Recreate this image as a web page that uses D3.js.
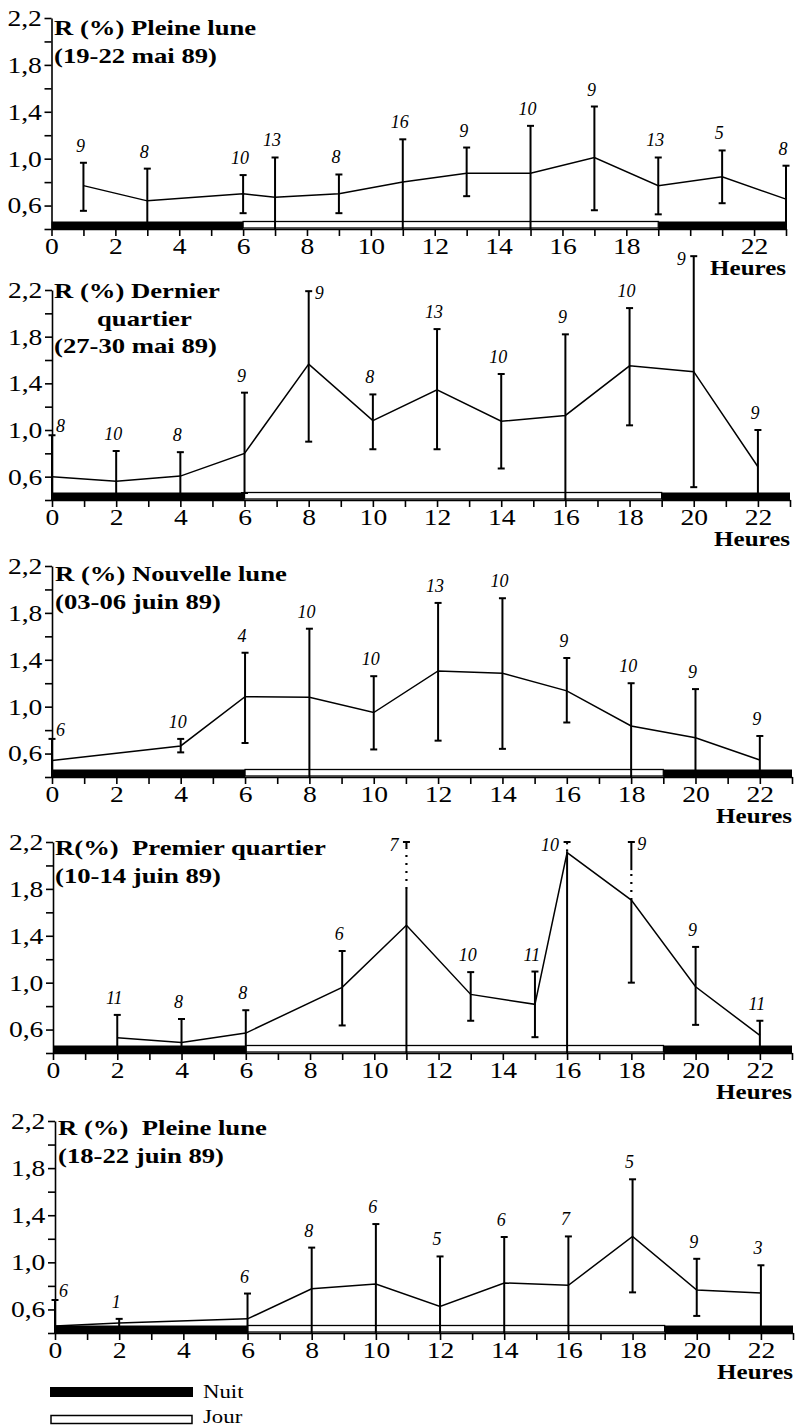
<!DOCTYPE html>
<html>
<head>
<meta charset="utf-8">
<script src="https://cdn.jsdelivr.net/npm/d3@7"></script>
<style>
body { margin:0; background:#fff; }
text { font-family:"Liberation Serif","Times New Roman",serif; fill:#000; }
</style>
</head>
<body>
<div id="graph"></div>
<script>
// Pleine lune (19-22 mai 89)
var hours1 = [1, 3, 6, 7, 9, 11, 13, 15, 17, 19, 21, 23]
var mean1  = [0.77, 0.64, 0.70, 0.67, 0.70, 0.80, 0.875, 0.875, 1.01, 0.77, 0.845, 0.655]
var low1   = [0.555, 0.40, 0.535, 0.40, 0.535, 0.40, 0.68, 0.40, 0.56, 0.525, 0.62, 0.40]
var high1  = [0.965, 0.915, 0.86, 1.01, 0.865, 1.165, 1.095, 1.28, 1.445, 1.01, 1.07, 0.94]
var n1     = [9, 8, 10, 13, 8, 16, 9, 10, 9, 13, 5, 8]

// Dernier quartier (27-30 mai 89)
var hours2 = [0, 2, 4, 6, 8, 10, 12, 14, 16, 18, 20, 22]
var mean2  = [0.60, 0.56, 0.605, 0.80, 1.565, 1.08, 1.345, 1.075, 1.125, 1.55, 1.50, 0.685]
var low2   = [0.40, 0.40, 0.40, 0.46, 0.90, 0.835, 0.835, 0.67, 0.40, 1.04, 0.51, 0.40]
var high2  = [0.955, 0.82, 0.81, 1.32, 2.19, 1.305, 1.865, 1.48, 1.82, 2.045, 2.49, 1.0]
var n2     = [8, 10, 8, 9, 9, 8, 13, 10, 9, 10, 9, 9]

// Nouvelle lune (03-06 juin 89)
var hours3 = [0, 4, 6, 8, 10, 12, 14, 16, 18, 20, 22]
var mean3  = [0.54, 0.665, 1.085, 1.08, 0.95, 1.305, 1.285, 1.135, 0.835, 0.735, 0.545]
var low3   = [0.40, 0.61, 0.69, 0.40, 0.635, 0.71, 0.64, 0.865, 0.40, 0.40, 0.40]
var high3  = [0.725, 0.725, 1.46, 1.665, 1.26, 1.885, 1.925, 1.415, 1.20, 1.15, 0.75]
var n3     = [6, 10, 4, 10, 10, 13, 10, 9, 10, 9, 9]

// Premier quartier (10-14 juin 89)
var hours4 = [2, 4, 6, 9, 11, 13, 15, 16, 18, 20, 22]
var mean4  = [0.53, 0.49, 0.57, 0.96, 1.49, 0.90, 0.815, 2.11, 1.705, 0.965, 0.55]
var low4   = [0.40, 0.40, 0.40, 0.635, 0.40, 0.675, 0.535, 0.40, 1.0, 0.64, 0.40]
var high4  = [0.725, 0.69, 0.765, 1.27, 2.2, 1.09, 1.095, 2.2, 2.2, 1.305, 0.675]
var n4     = [11, 8, 8, 6, 7, 10, 11, 10, 9, 9, 11]
// dotted (broken) stretches of some error bars: [hour, from, to]
var gaps4  = [[11, 1.80, 2.15], [16, 2.12, 2.18], [18, 1.705, 1.96]]

// Pleine lune (18-22 juin 89)
var hours5 = [0, 2, 6, 8, 10, 12, 14, 16, 18, 20, 22]
var mean5  = [0.46, 0.485, 0.52, 0.775, 0.815, 0.625, 0.825, 0.805, 1.22, 0.765, 0.74]
var low5   = [0.40, 0.45, 0.40, 0.40, 0.40, 0.40, 0.40, 0.40, 0.745, 0.545, 0.40]
var high5  = [0.68, 0.52, 0.735, 1.125, 1.325, 1.05, 1.215, 1.22, 1.705, 1.03, 0.975]
var n5     = [6, 1, 6, 8, 6, 5, 6, 7, 5, 9, 3]

var titles = [
    ["R (%) Pleine lune", "(19-22 mai 89)"],
    ["R (%) Dernier", "quartier", "(27-30 mai 89)"],
    ["R (%) Nouvelle lune", "(03-06 juin 89)"],
    ["R(%)  Premier quartier", "(10-14 juin 89)"],
    ["R (%)  Pleine lune", "(18-22 juin 89)"]
]
var tickHours = d3.range(0, 24)
var yTickValues = [0.4, 0.6, 0.8, 1.0, 1.2, 1.4, 1.6, 1.8, 2.0, 2.2]
var nightSpans = [[0, 6], [19, 23]]
var daySpans = [[6, 19]]
var legendItems = ["Nuit", "Jour"]
var xLabel = "Heures"

var width = 798, height = 1428
var svg = d3.select("#graph").append("svg")
    .attr("width", width).attr("height", height)
svg.append("rect").attr("width", width).attr("height", height).attr("fill", "#fff")

var panels = [
    {hours: hours1, mean: mean1, low: low1, high: high1, n: n1, gaps: []},
    {hours: hours2, mean: mean2, low: low2, high: high2, n: n2, gaps: []},
    {hours: hours3, mean: mean3, low: low3, high: high3, n: n3, gaps: []},
    {hours: hours4, mean: mean4, low: low4, high: high4, n: n4, gaps: gaps4},
    {hours: hours5, mean: mean5, low: low5, high: high5, n: n5, gaps: []}
]

// hideLabel: hour tick whose label is masked in the original (top panel, under the bar of panel 2)
var layout = [
    {top: 18,   base: 229,  left: 51.5, right: 786, titleDy: 17, titleX: [54, 54], hideLabel: 20},
    {top: 290,  base: 500,  left: 52,   right: 790, titleDy: 8,  titleX: [54, 97, 54]},
    {top: 566,  base: 777,  left: 52,   right: 792, titleDy: 15, titleX: [55, 55]},
    {top: 842,  base: 1053, left: 53,   right: 792, titleDy: 13, titleX: [55, 55]},
    {top: 1121, base: 1333, left: 55,   right: 793, titleDy: 14, titleX: [58, 58]}
]

// labels that sit beside the cap instead of above it
var sideLabel = {"1-8": "right", "1-20": "left", "3-11": "left", "3-16": "left", "3-18": "right"}

function scaledText(g, x, y, s, sx) {
    return g.append("text")
        .attr("transform", "translate(" + x + "," + y + ") scale(" + sx + ",1)")
        .style("white-space", "pre")
        .text(s)
}

function fmtY(v) {
    var k = Math.round(v * 10)
    if (k % 4 !== 2) return ""
    return (k / 10).toFixed(1).replace(".", ",")
}

panels.forEach(function(p, i) {
    var L = layout[i]
    var g = svg.append("g").attr("class", "panel")
    var x = d3.scaleLinear().domain([0, 23]).range([L.left, L.right])
    var y = d3.scaleLinear().domain([0.4, 2.2]).range([L.base, L.top])

    // night / day band
    g.selectAll("rect.night").data(nightSpans).enter().append("rect")
        .attr("x", function(d) { return x(d[0]) })
        .attr("width", function(d) { return x(d[1]) - x(d[0]) })
        .attr("y", L.base - 7.5).attr("height", 7.5)
        .attr("fill", "#000")
    g.selectAll("rect.day").data(daySpans).enter().append("rect")
        .attr("x", function(d) { return x(d[0]) })
        .attr("width", function(d) { return x(d[1]) - x(d[0]) })
        .attr("y", L.base - 7.5).attr("height", 6.5)
        .attr("fill", "#fff").attr("stroke", "#000").attr("stroke-width", 1.3)

    // axes
    var xAxis = g.append("g")
        .attr("transform", "translate(0," + L.base + ")")
        .call(d3.axisBottom(x).tickValues(tickHours).tickSize(7).tickSizeOuter(0).tickPadding(2)
            .tickFormat(function(d) { return (d % 2 === 0 && d !== L.hideLabel) ? d : "" }))
    var yAxis = g.append("g")
        .attr("transform", "translate(" + L.left + ",0)")
        .call(d3.axisLeft(y).tickValues(yTickValues).tickSize(7).tickSizeOuter(0).tickPadding(1)
            .tickFormat(fmtY))
    ;[xAxis, yAxis].forEach(function(a) {
        a.selectAll("path, line").attr("stroke", "#000").attr("stroke-width", 1.6)
        a.selectAll("text").attr("font-size", 23).attr("fill", "#000")
            .attr("font-family", "Liberation Serif, Times New Roman, serif")
            .attr("transform", "scale(1.2,1)")
    })

    // title
    var t = titles[i]
    t.forEach(function(line, j) {
        scaledText(g, L.titleX[j], L.top + L.titleDy + j * 27.5, line, 1.27)
            .attr("font-size", 21).attr("font-weight", "bold")
    })
    scaledText(g, L.right, L.base + 46, xLabel, 1.25)
        .attr("font-size", 20).attr("font-weight", "bold").attr("text-anchor", "end")

    var pts = p.hours.map(function(h, k) {
        return {h: h, m: p.mean[k], lo: p.low[k], hi: p.high[k], n: p.n[k]}
    })

    // error bars
    var bars = g.append("g").attr("stroke", "#000").attr("stroke-width", 2)
    pts.forEach(function(d) {
        var gap = p.gaps.filter(function(q) { return q[0] === d.h })[0]
        var cx = x(d.h)
        if (gap) {
            bars.append("line").attr("x1", cx).attr("x2", cx).attr("y1", y(d.lo)).attr("y2", y(gap[1]))
            bars.append("line").attr("x1", cx).attr("x2", cx).attr("y1", y(gap[1])).attr("y2", y(gap[2]))
                .attr("stroke-dasharray", "2,6").attr("stroke-width", 2.2)
            bars.append("line").attr("x1", cx).attr("x2", cx).attr("y1", y(gap[2])).attr("y2", y(d.hi))
        } else {
            bars.append("line").attr("x1", cx).attr("x2", cx).attr("y1", y(d.lo)).attr("y2", y(d.hi))
        }
        bars.append("line").attr("x1", cx - 3.5).attr("x2", cx + 3.5).attr("y1", y(d.hi)).attr("y2", y(d.hi))
        if (d.lo > 0.41) {
            bars.append("line").attr("x1", cx - 3.5).attr("x2", cx + 3.5).attr("y1", y(d.lo)).attr("y2", y(d.lo))
        }
    })

    // mean line
    var line = d3.line().x(function(d) { return x(d.h) }).y(function(d) { return y(d.m) })
    g.append("path").datum(pts)
        .attr("d", line).attr("fill", "none").attr("stroke", "#000").attr("stroke-width", 1.5)

    // sample counts
    pts.forEach(function(d) {
        var side = sideLabel[i + "-" + d.h]
        var tx = x(d.h) - 3, ty = y(d.hi) - 11, anchor = "middle"
        if (d.h === 0) { tx = x(d.h) + 4; ty = y(d.hi) - 3; anchor = "start" }
        if (side === "right") { tx = x(d.h) + 6; ty = y(d.hi) + 8; anchor = "start" }
        if (side === "left") { tx = x(d.h) - 8; ty = y(d.hi) + 9; anchor = "end" }
        g.append("text").attr("x", tx).attr("y", ty)
            .attr("text-anchor", anchor)
            .attr("font-size", 18).attr("font-style", "italic")
            .text(d.n)
    })
})

// legend
var leg = svg.append("g").attr("class", "legend")
leg.append("rect").attr("x", 50).attr("y", 1387).attr("width", 143).attr("height", 10).attr("fill", "#000")
leg.append("rect").attr("x", 51).attr("y", 1415.5).attr("width", 141).attr("height", 8)
    .attr("fill", "#fff").attr("stroke", "#000").attr("stroke-width", 1.5)
legendItems.forEach(function(s, k) {
    scaledText(leg, 203, 1398 + k * 25, s, 1.2).attr("font-size", 19)
})
</script>
</body>
</html>
